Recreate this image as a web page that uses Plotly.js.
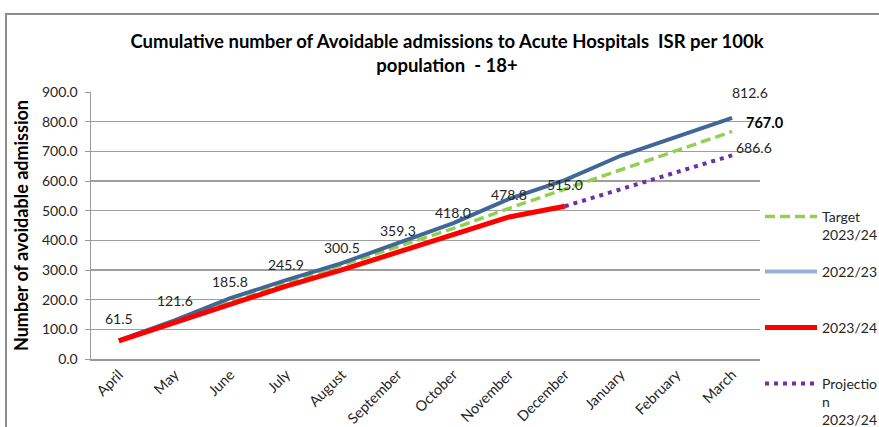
<!DOCTYPE html>
<html><head><meta charset="utf-8">
<script src="https://cdn.plot.ly/plotly-3.0.1.min.js"></script>
<style>
html,body{margin:0;padding:0;background:#fff;}
#wrap{position:relative;width:879px;height:427px;overflow:hidden;}
#chart{width:879px;height:427px;}
#frame{position:absolute;left:5px;top:13px;width:900px;height:440px;border:2px solid #8c8c8c;pointer-events:none;}
</style>
</head><body>
<div id="wrap"><div id="chart"></div><div id="frame"></div></div>
<script>
const months = ['April','May','June','July','August','September','October','November','December','January','February','March'];
const target = [62, 125, 190, 255, 316, 378, 440, 508, 572, 638, 703, 767.0];
const prevYear = [63, 130, 205, 266, 323, 390, 458, 540, 603, 685, 748, 812.6];
const currentMonths = ['April','May','June','July','August','September','October','November','December'];
const current = [61.5, 121.6, 185.8, 245.9, 300.5, 359.3, 418.0, 478.8, 515.0];
const projMonths = ['December','January','February','March'];
const projection = [515.0, 572, 630, 686.6];
const yTicks = [0,100,200,300,400,500,600,700,800,900];

const FONT = 'Lato, "Open Sans", sans-serif';
const last = a => a[a.length-1];

const traces = [
  {x: months, y: target, name: 'Target<br>2023/24', type:'scatter', mode:'lines',
   line:{color:'#92D050', width:3.5, dash:'10px,5px'}, legend:'legend'},
  {x: months, y: prevYear, name: '2022/23', type:'scatter', mode:'lines',
   line:{color:'#3F6896', width:4}, showlegend:false},
  {x: [null], y: [null], name: '2022/23', type:'scatter', mode:'lines',
   line:{color:'#95B3D7', width:4}, legend:'legend2'},
  {x: currentMonths, y: current, name: '2023/24', type:'scatter', mode:'lines',
   line:{color:'#FF0000', width:5}, legend:'legend3'},
  {x: projMonths, y: projection, name: 'Projectio<br>n<br>2023/24', type:'scatter', mode:'lines',
   line:{color:'#7030A0', width:4, dash:'4px,5px'}, legend:'legend4'}
];

const annotations = currentMonths.map((m,i)=>({
  x: m, y: current[i], xref:'x', yref:'y', text: current[i].toFixed(1),
  showarrow:false, yshift:22, font:{family:FONT, size:14, color:'#262626'}
}));
annotations.push({x:last(months), y:last(prevYear), xref:'x', yref:'y', text:last(prevYear).toFixed(1),
  showarrow:false, xanchor:'left', xshift:-2, yshift:25, font:{family:FONT,size:14,color:'#262626'}});
annotations.push({x:last(months), y:last(target), xref:'x', yref:'y', text:'<b>'+last(target).toFixed(1)+'</b>',
  showarrow:false, xanchor:'left', xshift:12, yshift:9, font:{family:FONT,size:14.5,color:'#000'}});
annotations.push({x:last(months), y:last(projection), xref:'x', yref:'y', text:last(projection).toFixed(1),
  showarrow:false, xanchor:'left', xshift:2, yshift:8, font:{family:FONT,size:14,color:'#262626'}});

function leg(ypx){
  return {x:760/879, xref:'container', xanchor:'left', y:1-ypx/427, yref:'container', yanchor:'top',
    bgcolor:'rgba(0,0,0,0)', borderwidth:0, valign:'top', itemwidth:52,
    font:{family:FONT, size:14, color:'#262626'}, tracegroupgap:0};
}

const layout = {
  width:879, height:427,
  margin:{l:91, r:114, t:92, b:68},
  paper_bgcolor:'#fff', plot_bgcolor:'#fff',
  font:{family:FONT, color:'#262626'},
  title:{text:'<b>Cumulative number of Avoidable admissions to Acute Hospitals  ISR per 100k<br>population  - 18+</b>',
    x:447/879, xref:'container', xanchor:'center', y:1-48/427, yref:'container', yanchor:'middle',
    font:{family:FONT, size:18.5, color:'#000'}},
  xaxis:{type:'category', categoryarray:months, categoryorder:'array', range:[-0.5,11.5],
    tickangle:-45, tickfont:{family:FONT, size:14.5, color:'#262626'},
    showgrid:false, showline:true, linecolor:'#999', linewidth:1.5, ticks:'', zeroline:false},
  yaxis:{range:[0,900], tickvals:yTicks, ticktext:yTicks.map(v=>v.toFixed(1)),
    tickfont:{family:FONT, size:14, color:'#262626'}, ticklabelstandoff:4,
    showgrid:true, gridcolor:'#9e9e9e', gridwidth:1.5, showline:true, linecolor:'#999', linewidth:1.5,
    ticks:'outside', ticklen:5, tickcolor:'#999', zeroline:false,
    title:{text:'<b>Number of avoidable admission</b>', standoff:8, font:{family:FONT, size:18, color:'#000'}}},
  legend:leg(201), legend2:leg(256), legend3:leg(312), legend4:leg(368),
  annotations:annotations,
  showlegend:true
};

Plotly.newPlot('chart', traces, layout, {displayModeBar:false, staticPlot:true});
</script>
</body></html>
